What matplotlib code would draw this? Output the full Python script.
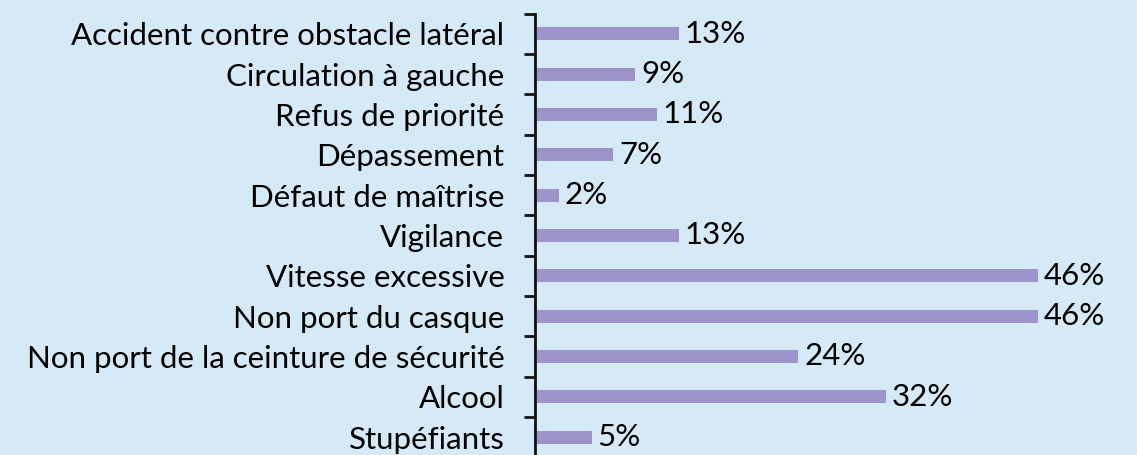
import matplotlib.pyplot as plt

# Data (top to bottom as displayed)
categories = [
    "Accident contre obstacle latéral",
    "Circulation à gauche",
    "Refus de priorité",
    "Dépassement",
    "Défaut de maîtrise",
    "Vigilance",
    "Vitesse excessive",
    "Non port du casque",
    "Non port de la ceinture de sécurité",
    "Alcool",
    "Stupéfiants",
]
values = [13, 9, 11, 7, 2, 13, 46, 46, 24, 32, 5]

bg = "#d5eaf6"
bar_color = "#9b93c9"

plt.rcParams["font.family"] = ["Lato", "DejaVu Sans"]

fig = plt.figure(figsize=(11.37, 4.55), dpi=100)
fig.patch.set_facecolor(bg)
ax = fig.add_axes([535 / 1137, -0.005, 1 - 535 / 1137, 0.975])
ax.set_facecolor(bg)

n = len(categories)
y = list(range(n))
ax.barh(y, values, height=0.32, color=bar_color, left=0.2)
for yi, v in zip(y, values):
    ax.text(v + 0.2 + 0.55, yi, f"{v}%", va="center", ha="left", fontsize=22.5, color="#000000")

ax.set_ylim(n - 0.5, -0.5)
ax.set_xlim(0, 55.3)
ax.set_yticks(y)
ax.set_yticklabels(categories, fontsize=22.5, color="#000000")
ax.tick_params(axis="y", which="major", length=0, pad=22)
ax.set_yticks([i - 0.5 for i in range(n + 1)], minor=True)
ax.tick_params(axis="y", which="minor", length=8, width=2, color="#111111")
ax.set_xticks([])
for s in ["top", "right", "bottom"]:
    ax.spines[s].set_visible(False)
ax.spines["left"].set_linewidth(2)
ax.spines["left"].set_color("#111111")

fig.savefig("out.png", dpi=100, facecolor=bg)
